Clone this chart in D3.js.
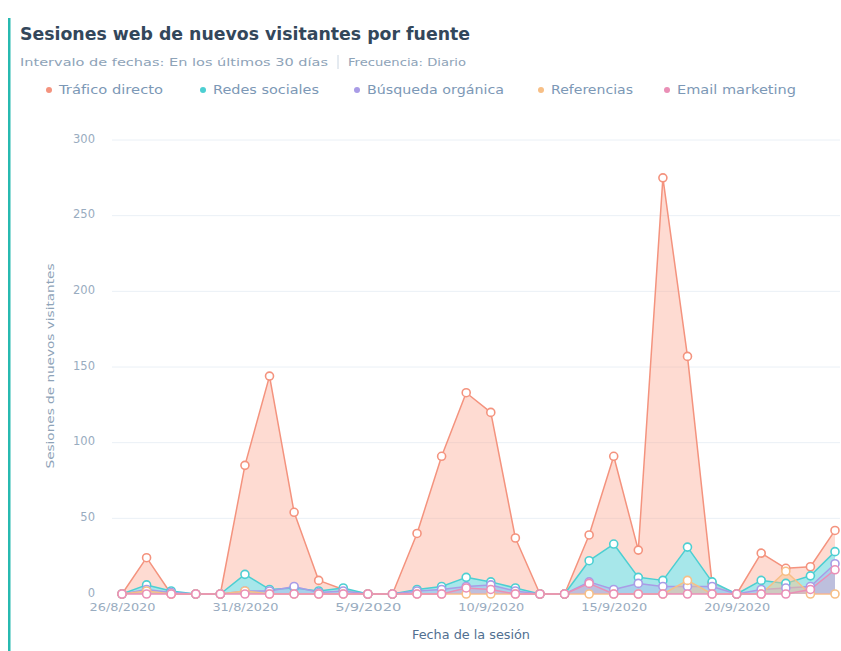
<!DOCTYPE html>
<html lang="es">
<head>
<meta charset="utf-8">
<script src="https://cdn.jsdelivr.net/npm/d3@7"></script>
<style>
  html, body { margin: 0; padding: 0; background: #ffffff; }
  svg { display: block; font-family: "DejaVu Sans", Lato, sans-serif; }
</style>
</head>
<body>
<svg id="chart" width="841" height="651"></svg>
<script>
// Daily dates for the last 30 days
const dates = ["26/8/2020","27/8/2020","28/8/2020","29/8/2020","30/8/2020","31/8/2020",
  "1/9/2020","2/9/2020","3/9/2020","4/9/2020","5/9/2020","6/9/2020","7/9/2020","8/9/2020",
  "9/9/2020","10/9/2020","11/9/2020","12/9/2020","13/9/2020","14/9/2020","15/9/2020",
  "16/9/2020","17/9/2020","18/9/2020","19/9/2020","20/9/2020","21/9/2020","22/9/2020",
  "23/9/2020","24/9/2020"];

// New-visitor sessions per source
const traficoDirecto   = [0,24,0,0,0,85,144,54,9,3,0,0,40,91,133,120,37,0,0,39,91,29,275,157,7,0,27,17,18,42];
const redesSociales    = [0,6,2,0,0,13,3,4,2,4,0,0,3,5,11,8,4,0,0,22,33,11,9,31,8,0,9,7,12,28];
const busquedaOrganica = [0,3,1,0,0,2,2,5,1,2,0,0,2,3,5,6,2,0,0,8,3,7,5,5,5,0,3,4,5,20];
const referencias      = [0,2,0,0,0,2,0,0,0,0,0,0,0,0,0,0,0,0,0,0,0,0,0,9,0,0,0,15,0,0];
const emailMarketing   = [0,0,0,0,0,0,0,0,0,0,0,0,0,0,4,3,0,0,0,7,0,0,0,0,0,0,0,0,3,16];

const seriesNames = ["Tráfico directo","Redes sociales","Búsqueda orgánica","Referencias","Email marketing"];
const xTickLabels = ["26/8/2020","31/8/2020","5/9/2020","10/9/2020","15/9/2020","20/9/2020"];
const yTicks = [0,50,100,150,200,250,300];

const colors = ["#f4937e","#4ccfd2","#a99ce6","#f7bf86","#ea8fb6"];
const fills  = ["rgba(252,160,138,0.38)","rgba(125,236,244,0.68)","rgba(172,160,240,0.30)","rgba(250,196,140,0.45)","rgba(238,150,190,0.30)"];

const series = [traficoDirecto, redesSociales, busquedaOrganica, referencias, emailMarketing]
  .map((vals, i) => ({ name: seriesNames[i], values: vals, color: colors[i], fill: fills[i] }));

const svg = d3.select("#chart");

// Left accent bar
svg.append("rect").attr("x", 8).attr("y", 18).attr("width", 2.5).attr("height", 633).attr("fill", "#27b9b0");

// Title and subtitle
svg.append("text").attr("x", 20).attr("y", 40)
  .attr("font-size", 17).attr("font-weight", 700).attr("fill", "#33475b")
  .attr("textLength", 450).attr("lengthAdjust", "spacingAndGlyphs")
  .text("Sesiones web de nuevos visitantes por fuente");
svg.append("text").attr("x", 20).attr("y", 66)
  .attr("font-size", 11).attr("fill", "#8ea3b8")
  .attr("textLength", 308).attr("lengthAdjust", "spacingAndGlyphs")
  .text("Intervalo de fechas: En los últimos 30 días");
svg.append("line").attr("x1", 338).attr("x2", 338).attr("y1", 55).attr("y2", 69).attr("stroke", "#cbd6e2");
svg.append("text").attr("x", 348).attr("y", 66)
  .attr("font-size", 11).attr("fill", "#8ea3b8")
  .attr("textLength", 118).attr("lengthAdjust", "spacingAndGlyphs")
  .text("Frecuencia: Diario");

// Legend
const legendX = [49, 203, 357, 541, 667];
const legendW = [104, 106, 137, 82, 119];
const legend = svg.append("g");
series.forEach((s, i) => {
  legend.append("circle").attr("cx", legendX[i]).attr("cy", 90).attr("r", 3).attr("fill", s.color);
  legend.append("text").attr("x", legendX[i] + 10).attr("y", 94)
    .attr("font-size", 11.5).attr("fill", "#7c98b6")
    .attr("textLength", legendW[i]).attr("lengthAdjust", "spacingAndGlyphs")
    .text(s.name);
});

// Scales
const x = d3.scalePoint().domain(dates).range([122, 835]);
const y = d3.scaleLinear().domain([0, 300]).range([594, 140]);

// Gridlines and y-axis labels
const yAxis = d3.axisLeft(y).tickValues(yTicks).tickSize(0).tickPadding(0);
const gy = svg.append("g").attr("transform", "translate(95,0)").call(yAxis);
gy.select(".domain").remove();
gy.selectAll("text").attr("font-size", 11.5).attr("fill", "#99acc0").attr("font-family", "DejaVu Sans, sans-serif")
  .attr("dy", "0.2em");
svg.append("g").selectAll("line").data(yTicks.filter(d => d > 0)).join("line")
  .attr("x1", 112).attr("x2", 840)
  .attr("y1", d => y(d)).attr("y2", d => y(d))
  .attr("stroke", "#eaf0f6").attr("stroke-width", 1);

// X axis labels
const xAxis = d3.axisBottom(x).tickValues(xTickLabels).tickSize(0).tickPadding(0);
const gx = svg.append("g").attr("transform", "translate(0,602)").call(xAxis);
gx.select(".domain").remove();
gx.selectAll("text").attr("font-size", 11).attr("fill", "#99acc0").attr("font-family", "DejaVu Sans, sans-serif")
  .attr("dy", "0.8em").attr("textLength", 66).attr("lengthAdjust", "spacingAndGlyphs");

// Axis titles
svg.append("text").attr("x", 471).attr("y", 639).attr("text-anchor", "middle")
  .attr("font-size", 13).attr("fill", "#516f90")
  .attr("textLength", 118).attr("lengthAdjust", "spacingAndGlyphs")
  .text("Fecha de la sesión");
svg.append("text").attr("transform", "translate(54,366) rotate(-90)").attr("text-anchor", "middle")
  .attr("font-size", 11).attr("fill", "#8ea3b8")
  .attr("textLength", 205).attr("lengthAdjust", "spacingAndGlyphs")
  .text("Sesiones de nuevos visitantes");

// Areas, lines and markers
const area = d3.area().x((d, i) => x(dates[i])).y0(y(0)).y1(d => y(d));
const line = d3.line().x((d, i) => x(dates[i])).y(d => y(d));

const layers = svg.append("g");
series.forEach(s => {
  const g = layers.append("g");
  g.append("path").datum(s.values).attr("d", area).attr("fill", s.fill);
  g.append("path").datum(s.values).attr("d", line)
    .attr("fill", "none").attr("stroke", s.color).attr("stroke-width", 1.5).attr("stroke-linejoin", "round");
});
series.forEach(s => {
  layers.append("g").selectAll("circle").data(s.values).join("circle")
    .attr("cx", (d, i) => x(dates[i])).attr("cy", d => y(d)).attr("r", 4)
    .attr("fill", "#ffffff").attr("stroke", s.color).attr("stroke-width", 1.6);
});
</script>
</body>
</html>
